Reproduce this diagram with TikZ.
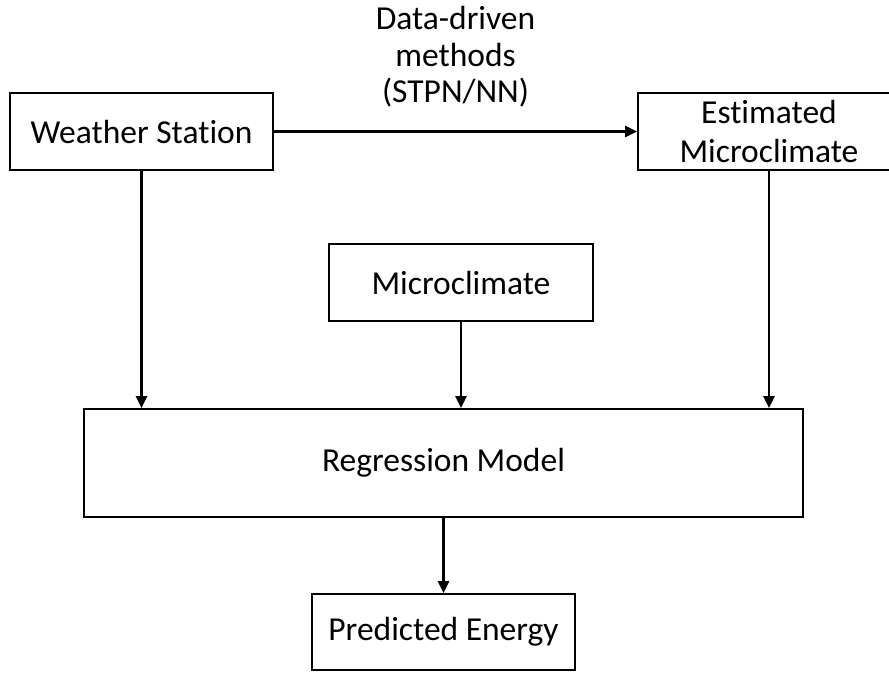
\documentclass[tikz,border=0pt]{standalone}
\usepackage{fontspec}
\setmainfont[Ligatures={NoCommon}]{Carlito}
\usetikzlibrary{arrows.meta}
\begin{document}
\begin{tikzpicture}[x=1pt,y=-1pt,
  box/.style={draw,line width=1.8pt,inner sep=0pt,align=center,
    font=\fontsize{33.5}{38.5}\selectfont},
  conn/.style={line width=2.4pt,-{Triangle[length=12pt,width=11pt]}}]
\useasboundingbox (0,0) rectangle (889,673);
\clip (0,0) rectangle (889,673);
\node[box,minimum width=263pt,minimum height=77pt] (ws) at (141.5,131.5) {Weather Station};
\node[box,minimum width=262pt,minimum height=77pt] (em) at (769,131.5) {Estimated\\Microclimate};
\node[box,minimum width=264pt,minimum height=77pt] (mc) at (461,282.5) {Microclimate};
\node[box,minimum width=719pt,minimum height=108pt] (rm) at (443.5,463) {Regression Model};
\node[box,minimum width=263pt,minimum height=76pt] (pe) at (443.5,632) {Predicted Energy};
\node[align=center,font=\fontsize{33.5}{36.5}\selectfont] (lbl) at (455.5,57) {Data-driven\\methods\\(STPN/NN)};
\draw[conn] (ws) -- (em);
\draw[conn] (ws.south) -- (ws.south |- rm.north);
\draw[conn] (mc.south) -- (mc.south |- rm.north);
\draw[conn] (em.south) -- (em.south |- rm.north);
\draw[conn] (rm.south) -- (pe.north);
\end{tikzpicture}
\end{document}
